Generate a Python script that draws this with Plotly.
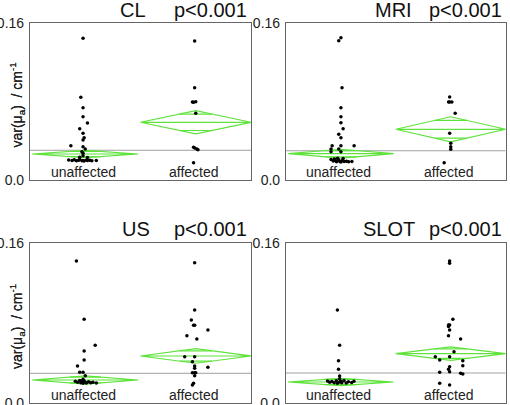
import plotly.graph_objects as go

# ---------------- data ----------------
panels = ["CL", "MRI", "US", "SLOT"]
p_text = ["p<0.001", "p<0.001", "p<0.001", "p<0.001"]
groups = ["unaffected", "affected"]
ytick_vals = [0.0, 0.16]
ytick_text = ["0.0", "0.16"]

cl_unaff = [0.1442, 0.0843, 0.0737, 0.0646, 0.0582, 0.0524, 0.0477, 0.0433, 0.0409, 0.0351,
            0.0340, 0.0318, 0.0290, 0.0275, 0.0205, 0.0200, 0.0208, 0.0198, 0.0203, 0.0210,
            0.0199, 0.0202, 0.0196, 0.0206, 0.0200, 0.0203, 0.0198, 0.0202, 0.0235, 0.0232, 0.0250]
cl_unaff_jit = [-0.02, -0.04, -0.02, -0.02, 0.02, -0.05, -0.02, -0.01, -0.02, -0.13,
                -0.02, 0.00, -0.03, -0.02, -0.15, -0.12, -0.10, -0.08, -0.06, -0.05,
                -0.03, -0.02, -0.01, 0.01, 0.02, 0.04, 0.06, 0.10, -0.05, 0.02, -0.02]
cl_aff = [0.1414, 0.0940, 0.0795, 0.0792, 0.0798, 0.0680, 0.0335, 0.0318, 0.0328, 0.0310, 0.0179]
cl_aff_jit = [-0.01, -0.01, -0.03, -0.02, 0.00, 0.00, -0.02, 0.01, -0.01, 0.02, -0.02]

mri_unaff = [0.1448, 0.1417, 0.0940, 0.0737, 0.0646, 0.0585, 0.0524, 0.0467, 0.0433, 0.0351,
             0.0351, 0.0351, 0.0318, 0.0318, 0.0290, 0.0290, 0.0210, 0.0195, 0.0200, 0.0188,
             0.0205, 0.0192, 0.0185, 0.0198, 0.0190, 0.0193, 0.0188, 0.0192, 0.0225, 0.0222, 0.0215]
mri_unaff_jit = [0.00, -0.02, 0.01, 0.00, 0.00, 0.00, 0.02, -0.02, 0.00, -0.08,
                 0.00, 0.12, -0.09, -0.02, -0.09, 0.00, -0.09, -0.07, -0.05, -0.04,
                 -0.02, -0.01, 0.00, 0.01, 0.03, 0.05, 0.07, 0.10, -0.03, 0.02, -0.06]
mri_aff = [0.0846, 0.0795, 0.0795, 0.0795, 0.0680, 0.0477, 0.0376, 0.0341, 0.0315, 0.0179]
mri_aff_jit = [-0.01, -0.02, -0.01, 0.01, 0.04, -0.01, 0.00, 0.00, 0.00, -0.06]

us_unaff = [0.1423, 0.0837, 0.0576, 0.0519, 0.0428, 0.0368, 0.0305, 0.0305, 0.0271,
            0.0215, 0.0205, 0.0222, 0.0200, 0.0212, 0.0195, 0.0218, 0.0205, 0.0198, 0.0210,
            0.0200, 0.0205, 0.0198, 0.0235]
us_unaff_jit = [-0.08, -0.01, 0.09, -0.01, -0.01, -0.07, -0.05, -0.02, 0.00,
                -0.09, -0.07, -0.05, -0.04, -0.03, -0.02, -0.01, 0.00, 0.01, 0.03,
                0.05, 0.07, 0.10, -0.02]
us_aff = [0.1406, 0.0931, 0.0830, 0.0777, 0.0777, 0.0730, 0.0673, 0.0639, 0.0462, 0.0462,
          0.0412, 0.0368, 0.0345, 0.0355, 0.0301, 0.0301, 0.0301, 0.0271, 0.0194, 0.0177]
us_aff_jit = [-0.01, -0.01, -0.04, -0.02, -0.01, 0.11, -0.08, 0.01, -0.10, -0.01,
              -0.03, -0.01, -0.01, 0.11, -0.03, -0.01, 0.00, -0.01, -0.02, -0.03]

slot_unaff = [0.0931, 0.0576, 0.0422, 0.0335, 0.0268, 0.0218, 0.0205, 0.0212, 0.0200, 0.0220,
              0.0195, 0.0208, 0.0215, 0.0200, 0.0222, 0.0198, 0.0210, 0.0202, 0.0215, 0.0240]
slot_unaff_jit = [-0.03, -0.01, -0.02, -0.02, -0.01, -0.12, -0.10, -0.08, -0.06, -0.04,
                  -0.03, -0.01, 0.00, 0.01, 0.03, 0.05, 0.07, 0.10, 0.12, -0.01]
slot_aff = [0.1423, 0.1399, 0.0837, 0.0780, 0.0780, 0.0765, 0.0730, 0.0673, 0.0639, 0.0512,
            0.0462, 0.0462, 0.0428, 0.0422, 0.0361, 0.0335, 0.0311, 0.0371, 0.0305, 0.0295,
            0.0288, 0.0194, 0.0177]
slot_aff_jit = [-0.01, -0.01, 0.02, -0.02, -0.01, -0.02, -0.01, -0.02, 0.09, 0.03,
                -0.14, -0.01, -0.10, 0.11, -0.01, -0.02, -0.01, 0.11, -0.10, 0.09,
                0.11, -0.10, -0.01]

# group means, 95% CI half-heights and grand mean
means = {"CL": [0.0267, 0.0589], "MRI": [0.0270, 0.0518], "US": [0.0228, 0.0469], "SLOT": [0.0208, 0.0492]}
ci_half = {"CL": [0.0037, 0.0118], "MRI": [0.0045, 0.0127], "US": [0.0042, 0.0073], "SLOT": [0.0037, 0.0068]}
grand_mean = {"CL": 0.0305, "MRI": 0.0300, "US": 0.0295, "SLOT": 0.0298}

points = {
    "CL": [(cl_unaff, cl_unaff_jit), (cl_aff, cl_aff_jit)],
    "MRI": [(mri_unaff, mri_unaff_jit), (mri_aff, mri_aff_jit)],
    "US": [(us_unaff, us_unaff_jit), (us_aff, us_aff_jit)],
    "SLOT": [(slot_unaff, slot_unaff_jit), (slot_aff, slot_aff_jit)],
}

# ---------------- layout geometry ----------------
W, H = 510, 405
boxes = {  # left, right, top, bottom in pixels
    "CL": (30, 251, 22.7, 180.3),
    "MRI": (286, 505.7, 22.7, 180.3),
    "US": (30, 251, 243.3, 402.7),
    "SLOT": (285.7, 505.7, 243.3, 402.7),
}
name_right = {"CL": 148, "MRI": 414, "US": 152, "SLOT": 417}
title_y = {"CL": 10, "MRI": 10, "US": 229, "SLOT": 229}
cat_x = [0.5, 1.5]
dia_half_w = [0.48, 0.5]
GREEN = "#5fe33c"
FONT = "Liberation Sans, Arial, sans-serif"

fig = go.Figure()
layout_axes = {}
annotations = []

for i, name in enumerate(panels):
    k = "" if i == 0 else str(i + 1)
    xa, ya = "x" + k, "y" + k
    l, r, t, b = boxes[name]

    # grand mean line
    fig.add_trace(go.Scatter(x=[0, 2], y=[grand_mean[name]] * 2, mode="lines",
                             line=dict(color="#a0a0a0", width=1), xaxis=xa, yaxis=ya,
                             showlegend=False, hoverinfo="skip"))
    # means diamonds
    for g in range(2):
        m, h = means[name][g], ci_half[name][g]
        cx, hw = cat_x[g], dia_half_w[g]
        fig.add_trace(go.Scatter(x=[cx - hw, cx, cx + hw, cx, cx - hw, cx + hw],
                                 y=[m, m + h, m, m - h, m, m], mode="lines",
                                 line=dict(color=GREEN, width=1.2), xaxis=xa, yaxis=ya,
                                 showlegend=False, hoverinfo="skip"))
        o = h / 2 ** 0.5
        ow = hw * (1 - 1 / 2 ** 0.5)
        for s in (1, -1):
            fig.add_trace(go.Scatter(x=[cx - ow, cx + ow], y=[m + s * o] * 2, mode="lines",
                                     line=dict(color=GREEN, width=1.2), xaxis=xa, yaxis=ya,
                                     showlegend=False, hoverinfo="skip"))
    # points
    for g in range(2):
        vals, jit = points[name][g]
        fig.add_trace(go.Scatter(x=[cat_x[g] + j for j in jit], y=vals, mode="markers",
                                 marker=dict(color="black", size=3.5), xaxis=xa, yaxis=ya,
                                 showlegend=False))

    layout_axes["xaxis" + k] = dict(domain=[l / W, r / W], range=[0, 2], anchor=ya,
                                    automargin=False,
                                    showgrid=False, zeroline=False, showticklabels=False,
                                    ticks="", showline=True, mirror=True,
                                    linecolor="#666666", linewidth=1.2)
    layout_axes["yaxis" + k] = dict(domain=[(H - b) / H, (H - t) / H], range=[0, 0.16],
                                    anchor=xa, automargin=False,
                                    showgrid=False, zeroline=False,
                                    tickvals=ytick_vals, ticktext=ytick_text, ticks="outside",
                                    ticklen=2, tickcolor="rgba(0,0,0,0)",
                                    ticklabeloverflow="allow",
                                    tickfont=dict(size=14, color="#222", family=FONT),
                                    showline=True, mirror=True, linecolor="#666666",
                                    linewidth=1.2)

    # titles
    annotations.append(dict(text=name, x=name_right[name] / W, y=(H - title_y[name]) / H,
                            xref="paper", yref="paper", xanchor="right", yanchor="middle",
                            showarrow=False, font=dict(size=20, color="#111", family=FONT)))
    annotations.append(dict(text=p_text[i], x=(r - 2) / W, y=(H - title_y[name]) / H,
                            xref="paper", yref="paper", xanchor="right", yanchor="middle",
                            showarrow=False, font=dict(size=20, color="#111", family=FONT)))
    # y-axis title
    annotations.append(dict(text="var(μ<sub>a</sub>) &nbsp;/ cm<sup>-1</sup>", textangle=-90,
                            x=17 / W, y=(H - ((t + b) / 2 + 4)) / H, xref="paper", yref="paper",
                            xanchor="center", yanchor="middle", showarrow=False,
                            font=dict(size=14, color="#222", family=FONT)))
    # category labels inside the box
    for g, lab in enumerate(groups):
        annotations.append(dict(text=lab, x=cat_x[g] - 0.02, y=0, xref=xa, yref=ya,
                                xanchor="center", yanchor="bottom", yshift=-2,
                                showarrow=False, font=dict(size=14, color="#222", family=FONT)))

fig.update_layout(template="none", width=W, height=H, autosize=False,
                  margin=dict(l=0, r=0, t=0, b=0, pad=0),
                  paper_bgcolor="white", plot_bgcolor="white", annotations=annotations,
                  font=dict(family=FONT), **layout_axes)

fig.write_html("out.html", config={"displayModeBar": False},
               post_script="document.body.style.margin='0';document.body.style.overflow='hidden';")
